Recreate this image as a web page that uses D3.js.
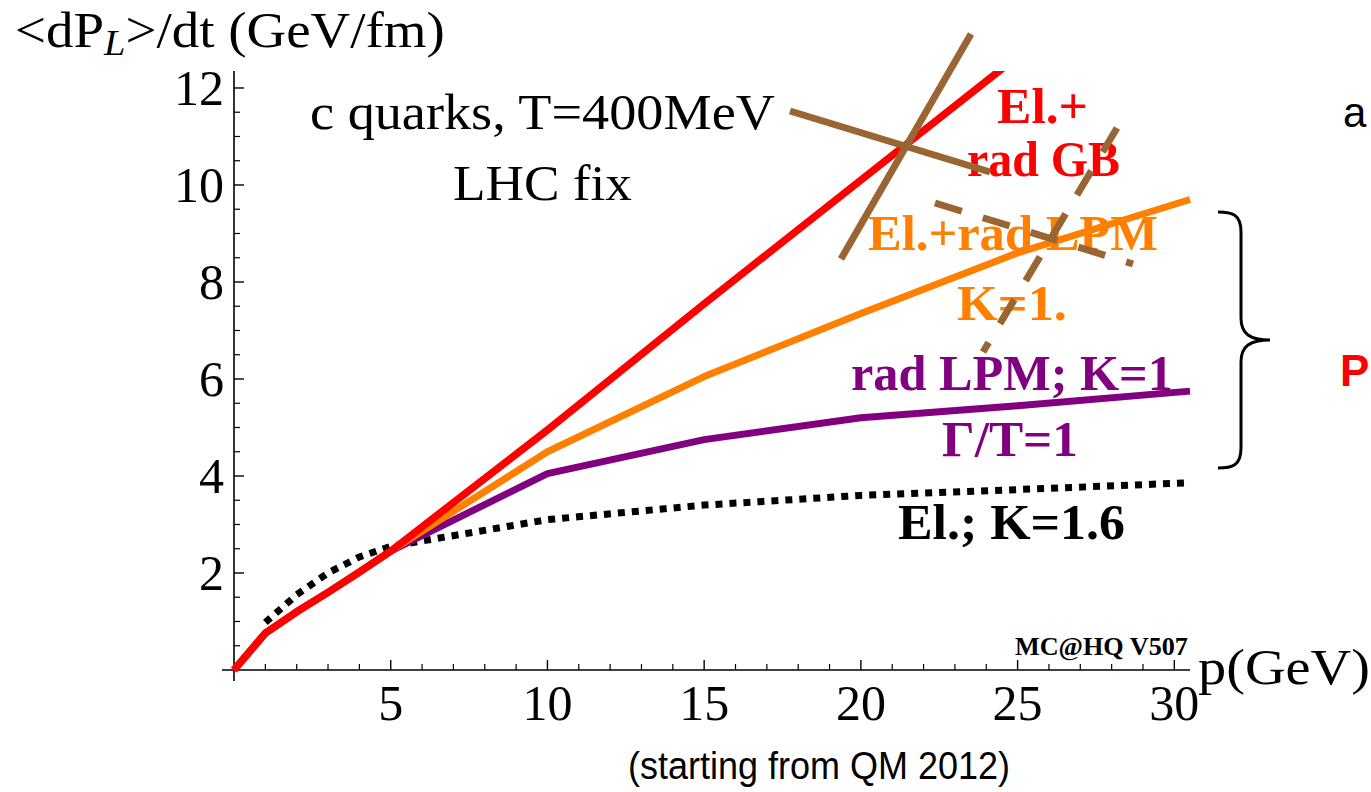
<!DOCTYPE html>
<html><head><meta charset="utf-8">
<script src="https://cdn.jsdelivr.net/npm/d3@7"></script>
<style>body{margin:0;background:#fff}svg{display:block}</style>
</head><body>
<script>
// ---- data ----
const pRed = [0, 1, 2, 3, 4, 5, 10, 15, 20, 25, 30];
const vRed = [0, 0.76, 1.2, 1.6, 2.02, 2.45, 4.95, 7.55, 10.1, 12.65, 15.2];
const pOrange = [0, 1, 2, 3, 4, 5, 10, 15, 20, 25, 30.5];
const vOrange = [0, 0.76, 1.2, 1.6, 2.02, 2.45, 4.5, 6.05, 7.35, 8.6, 9.7];
const pPurple = [0, 1, 2, 3, 4, 5, 10, 15, 20, 25, 30.5];
const vPurple = [0, 0.76, 1.2, 1.6, 2.02, 2.45, 4.05, 4.75, 5.2, 5.45, 5.75];
const pBlack = [1, 2, 3, 4, 5, 10, 15, 20, 25, 30.5];
const vBlack = [0.98, 1.55, 2.0, 2.33, 2.55, 3.1, 3.4, 3.6, 3.72, 3.86];
const xMajor = [5, 10, 15, 20, 25, 30];
const yMajor = [2, 4, 6, 8, 10, 12];

const W = 1371, H = 792;
const svg = d3.select("body").append("svg").attr("width", W).attr("height", H);
const x = d3.scaleLinear().domain([0, 30.5]).range([234, 1190]);
const y = d3.scaleLinear().domain([0, 12.35]).range([670, 71]);

const serif = "'Liberation Serif', 'Times New Roman', serif";
const sans = "'Liberation Sans', Arial, sans-serif";

svg.append("defs").append("clipPath").attr("id", "clip")
  .append("rect").attr("x", x(0) - 10).attr("y", y(12.35)).attr("width", x(30.5) - x(0) + 20).attr("height", y(0) - y(12.35) + 10);

// axes
const xMinor = d3.range(1, 31).filter(d => d % 5 !== 0);
const yMinor = d3.range(0.5, 12.5, 0.5).filter(d => d % 2 !== 0);
const ax = svg.append("g").attr("stroke", "#000");
ax.append("line").attr("x1", x(0) - 12).attr("x2", x(30.5)).attr("y1", y(0)).attr("y2", y(0)).attr("stroke-width", 1.6);
ax.append("line").attr("x1", x(0)).attr("x2", x(0)).attr("y1", y(0) + 11).attr("y2", y(12.35)).attr("stroke-width", 1.6);
ax.selectAll(".xt").data(xMajor).join("line").attr("x1", d => x(d)).attr("x2", d => x(d)).attr("y1", y(0)).attr("y2", y(0) - 10).attr("stroke-width", 1.4);
ax.selectAll(".xm").data(xMinor).join("line").attr("x1", d => x(d)).attr("x2", d => x(d)).attr("y1", y(0)).attr("y2", y(0) - 6).attr("stroke-width", 1.2);
ax.selectAll(".yt").data(yMajor).join("line").attr("x1", x(0)).attr("x2", x(0) + 10).attr("y1", d => y(d)).attr("y2", d => y(d)).attr("stroke-width", 1.4);
ax.selectAll(".ym").data(yMinor).join("line").attr("x1", x(0)).attr("x2", x(0) + 6).attr("y1", d => y(d)).attr("y2", d => y(d)).attr("stroke-width", 1.2);

svg.append("g").selectAll("text").data(xMajor).join("text")
  .attr("x", d => x(d)).attr("y", 720).attr("text-anchor", "middle")
  .attr("font-family", serif).attr("font-size", 50).text(d => d);
svg.append("g").selectAll("text").data(yMajor).join("text")
  .attr("x", 224).attr("y", d => y(d) + 17).attr("text-anchor", "end")
  .attr("font-family", serif).attr("font-size", 50).text(d => d);

// curves
const line = (ps, vs) => d3.line().x((d, i) => x(ps[i])).y((d, i) => y(vs[i]))(vs);
const g = svg.append("g").attr("clip-path", "url(#clip)").attr("fill", "none");
g.append("path").attr("d", line(pBlack, vBlack)).attr("stroke", "#000").attr("stroke-width", 7).attr("stroke-dasharray", "7,7");
g.append("path").attr("d", line(pPurple, vPurple)).attr("stroke", "#800080").attr("stroke-width", 7).attr("stroke-linejoin", "round");
g.append("path").attr("d", line(pOrange, vOrange)).attr("stroke", "#ff8000").attr("stroke-width", 7).attr("stroke-linejoin", "round");
g.append("path").attr("d", line(pRed, vRed)).attr("stroke", "#ff0000").attr("stroke-width", 7.5).attr("stroke-linejoin", "round");

// texts: placed at left x0, baseline yy, stretched horizontally to width w
function txt(s, x0, yy, w, opts) {
  const t = svg.append("text").attr("x", 0).attr("y", 0)
    .attr("font-family", opts.font || serif).attr("font-size", opts.size || 50)
    .attr("fill", opts.color || "#000")
    .attr("font-weight", opts.bold ? "bold" : "normal").text(s);
  const nat = t.node().getComputedTextLength();
  const s2 = w ? w / nat : 1;
  t.attr("transform", `translate(${x0},${yy}) scale(${s2},1)`);
  return t;
}
const title = svg.append("text").attr("x", 0).attr("y", 0).attr("font-family", serif).attr("font-size", 50);
title.append("tspan").text("<dP");
title.append("tspan").attr("font-style", "italic").attr("font-size", 35).attr("dy", 8).text("L");
title.append("tspan").attr("dy", -8).text(">/dt (GeV/fm)");
{
  const w = title.node().getBBox().width;
  title.attr("transform", `translate(15,47) scale(${430 / w},1)`);
}

txt("c quarks, T=400MeV", 310, 129, 465, {});
txt("LHC fix", 453, 200, 179, {});
txt("El.+", 997, 123, 91, {bold: true, color: "#ff0000"});
txt("rad GB", 967, 176, 153, {bold: true, color: "#ff0000"});
txt("El.+rad LPM", 868, 250, 290, {bold: true, color: "#ff8000"});
txt("K=1.", 957, 320, 110, {bold: true, color: "#ff8000"});
txt("rad LPM; K=1", 851, 390, 322, {bold: true, color: "#800080"});
txt("Γ/T=1", 942, 456, 136, {bold: true, color: "#800080"});
txt("El.; K=1.6", 898, 539, 227, {bold: true, color: "#000"});
txt("MC@HQ V507", 1015, 655, 173, {bold: true, size: 26});
txt("p(GeV)", 1198, 684, 172, {});
txt("(starting from QM 2012)", 628, 779, 382, {font: sans, size: 39});
txt("a", 1343, 127, null, {font: sans, size: 42});
txt("P", 1340, 386, null, {font: sans, size: 44, bold: true, color: "#ff0000"});

// brace
svg.append("path").attr("fill", "none").attr("stroke", "#000").attr("stroke-width", 3)
  .attr("d", "M1218,212 C1232,212 1241,214 1241,232 L1241,318 C1241,334 1250,340 1270,340 C1250,340 1241,346 1241,362 L1241,448 C1241,466 1232,468 1218,468");

// brown crosses
const brown = "#996633";
const cross = svg.append("g").attr("stroke", brown).attr("stroke-width", 7);
cross.append("line").attr("x1", 971).attr("y1", 34).attr("x2", 841).attr("y2", 259);
cross.append("line").attr("x1", 790).attr("y1", 111).attr("x2", 990).attr("y2", 172);
cross.append("line").attr("x1", 1117).attr("y1", 128).attr("x2", 983).attr("y2", 352).attr("stroke-dasharray", "28,22");
cross.append("line").attr("x1", 935).attr("y1", 203).attr("x2", 1133).attr("y2", 264).attr("stroke-dasharray", "28,22");
</script>
</body></html>
